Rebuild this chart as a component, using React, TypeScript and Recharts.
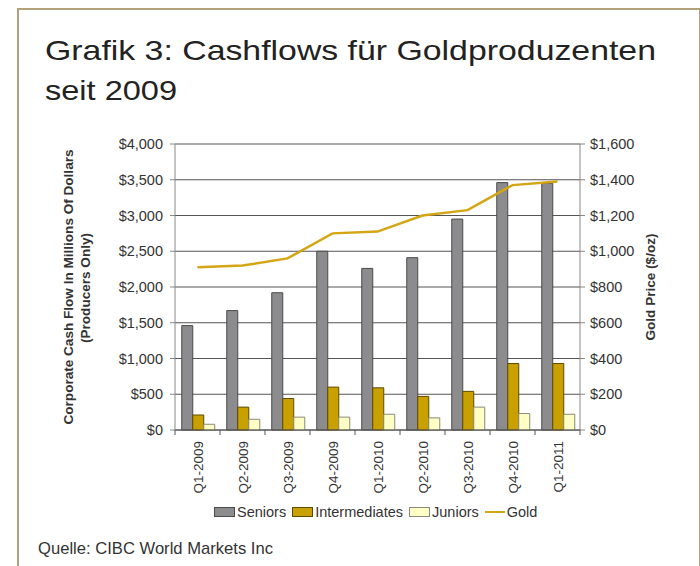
import React from 'react';
import { ComposedChart, Bar, Line, XAxis, YAxis, CartesianGrid } from 'recharts';

const quarters = ['Q1-2009', 'Q2-2009', 'Q3-2009', 'Q4-2009', 'Q1-2010', 'Q2-2010', 'Q3-2010', 'Q4-2010', 'Q1-2011'];
const seniors = [1460, 1670, 1920, 2500, 2260, 2410, 2950, 3460, 3450];
const intermediates = [210, 320, 440, 600, 590, 470, 540, 930, 930];
const juniors = [80, 150, 180, 180, 220, 170, 320, 230, 220];
const gold = [910, 920, 960, 1100, 1110, 1200, 1230, 1370, 1390];
const cashTicks = [0, 500, 1000, 1500, 2000, 2500, 3000, 3500, 4000];
const goldTicks = [0, 200, 400, 600, 800, 1000, 1200, 1400, 1600];

const series = [
  { key: 'seniors', label: 'Seniors', fill: '#8c8c8e', stroke: '#4a4a4a', type: 'bar' },
  { key: 'intermediates', label: 'Intermediates', fill: '#c8a000', stroke: '#5e4a00', type: 'bar' },
  { key: 'juniors', label: 'Juniors', fill: '#ffffc6', stroke: '#8a8a7a', type: 'bar' },
  { key: 'gold', label: 'Gold', fill: '#d4a514', stroke: '#d4a514', type: 'line' },
];

const data = quarters.map((q, i) => ({
  quarter: q,
  seniors: seniors[i],
  intermediates: intermediates[i],
  juniors: juniors[i],
  gold: gold[i],
}));

const FONT = "'Liberation Sans', Arial, sans-serif";
const TITLE_FONT = "'Liberation Sans', Arial, sans-serif";

const money = (v: number) => `$${v.toLocaleString('en-US')}`;

function QuarterTick(props: any) {
  const { x, y, payload, index } = props;
  const off = payload?.offset ?? 22.5;
  return (
    <g>
      <line x1={x - off} x2={x - off} y1={y} y2={y + 5} stroke="#555" />
      {index === quarters.length - 1 && (
        <line x1={x + off} x2={x + off} y1={y} y2={y + 5} stroke="#555" />
      )}
      <text
        transform={`translate(${x + 5},${y + 11}) rotate(-90)`}
        textAnchor="end"
        fontFamily={FONT}
        fontSize={13.5}
        fill="#333"
      >
        {payload.value}
      </text>
    </g>
  );
}

export default function App() {
  return (
    <div style={{ position: 'absolute', left: 0, top: 0, width: 700, height: 566, background: '#fff', overflow: 'hidden' }}>
      {/* frame */}
      <div style={{ position: 'absolute', left: 17, top: 8, width: 680, height: 600, border: '2.5px solid #b3a17c' }} />

      <svg width={700} height={566} style={{ position: 'absolute', left: 0, top: 0 }}>
        <text x={45} y={60} fontFamily={TITLE_FONT} fontSize={28} fill="#222" textLength={611} lengthAdjust="spacingAndGlyphs">
          Grafik 3: Cashflows für Goldproduzenten
        </text>
        <text x={45} y={100} fontFamily={TITLE_FONT} fontSize={28} fill="#222" textLength={132} lengthAdjust="spacingAndGlyphs">
          seit 2009
        </text>
        <text x={38} y={554} fontFamily={TITLE_FONT} fontSize={17} fill="#333" textLength={235} lengthAdjust="spacingAndGlyphs">
          Quelle: CIBC World Markets Inc
        </text>
        {/* axis titles */}
        <text transform="translate(73,287) rotate(-90)" textAnchor="middle" fontFamily={FONT} fontWeight="bold" fontSize={12.5} fill="#333" textLength={275} lengthAdjust="spacingAndGlyphs">
          Corporate Cash Flow In Millions Of Dollars
        </text>
        <text transform="translate(90,288) rotate(-90)" textAnchor="middle" fontFamily={FONT} fontWeight="bold" fontSize={12.5} fill="#333" textLength={110} lengthAdjust="spacingAndGlyphs">
          (Producers Only)
        </text>
        <text transform="translate(655,287) rotate(-90)" textAnchor="middle" fontFamily={FONT} fontWeight="bold" fontSize={12.5} fill="#333" textLength={107} lengthAdjust="spacingAndGlyphs">
          Gold Price ($/oz)
        </text>
      </svg>

      <div style={{ position: 'absolute', left: 0, top: 0 }}>
        <ComposedChart
          width={700}
          height={566}
          data={data}
          margin={{ top: 144, right: 60, left: 115, bottom: 66 }}
          barGap={0}
          barCategoryGap="15%"
        >
          <CartesianGrid horizontal vertical={false} stroke="#555" strokeWidth={1} yAxisId="cash" />
          <XAxis
            dataKey="quarter"
            xAxisId={0}
            height={70}
            tickSize={0}
            tickMargin={0}
            axisLine={{ stroke: '#555' }}
            tick={<QuarterTick />}
            interval={0}
          />
          <YAxis
            yAxisId="cash"
            orientation="left"
            width={60}
            domain={[0, 4000]}
            ticks={cashTicks}
            tickFormatter={money}
            tick={{ fontSize: 14.5, fill: '#333', fontFamily: FONT }}
            tickSize={5}
            tickMargin={7}
            axisLine={{ stroke: '#888' }}
            tickLine={{ stroke: '#888' }}
            interval={0}
          />
          <YAxis
            yAxisId="gold"
            orientation="right"
            width={60}
            domain={[0, 1600]}
            ticks={goldTicks}
            tickFormatter={money}
            tick={{ fontSize: 14.5, fill: '#333', fontFamily: FONT, textAnchor: 'start' }}
            tickSize={5}
            tickMargin={5}
            axisLine={{ stroke: '#888' }}
            tickLine={{ stroke: '#888' }}
            interval={0}
          />
          {series.filter((s) => s.type === 'bar').map((s) => (
            <Bar
              key={s.key}
              dataKey={s.key}
              yAxisId="cash"
              fill={s.fill}
              stroke={s.stroke}
              strokeWidth={1}
              isAnimationActive={false}
            />
          ))}
          <Line
            dataKey="gold"
            yAxisId="gold"
            type="linear"
            stroke="#d4a514"
            strokeWidth={2.5}
            dot={false}
            isAnimationActive={false}
          />
        </ComposedChart>
      </div>

      {/* legend */}
      <div
        style={{
          position: 'absolute',
          left: 214,
          top: 504,
          display: 'flex',
          alignItems: 'center',
          fontFamily: FONT,
          fontSize: 14.5,
          color: '#333',
          whiteSpace: 'nowrap',
        }}
      >
        {series.map((s) => (
          <div key={s.key} style={{ display: 'flex', alignItems: 'center', marginRight: 6 }}>
            {s.type === 'bar' ? (
              <span style={{ display: 'inline-block', width: 19, height: 8, background: s.fill, border: `1px solid ${s.stroke}`, marginRight: 2 }} />
            ) : (
              <span style={{ display: 'inline-block', width: 20, height: 2.5, background: s.fill, marginRight: 2 }} />
            )}
            <span>{s.label}</span>
          </div>
        ))}
      </div>
    </div>
  );
}
